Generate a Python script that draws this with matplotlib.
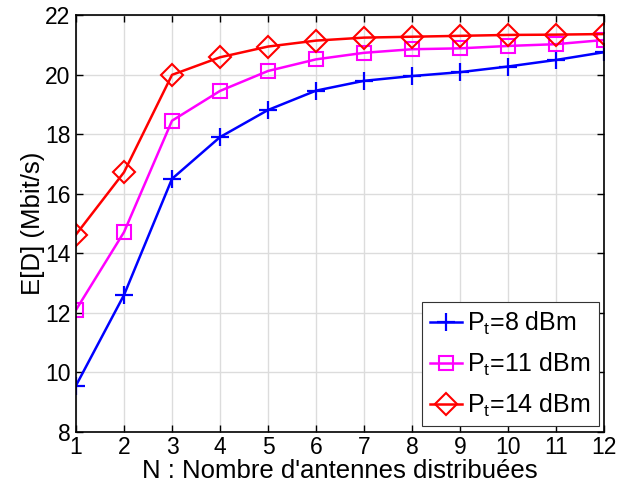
import matplotlib.pyplot as plt
import numpy as np

plt.rcParams['font.family'] = ['Liberation Sans', 'DejaVu Sans']
plt.rcParams['mathtext.fontset'] = 'custom'
plt.rcParams['mathtext.rm'] = 'Liberation Sans'
plt.rcParams['mathtext.it'] = 'Liberation Sans'

n = np.arange(1, 13)
d_8dbm = [9.56, 12.6, 16.5, 17.9, 18.81, 19.46, 19.79, 19.95, 20.08, 20.27, 20.49, 20.75]
d_11dbm = [12.1, 14.71, 18.45, 19.45, 20.12, 20.51, 20.73, 20.85, 20.88, 20.96, 21.02, 21.16]
d_14dbm = [14.63, 16.72, 19.99, 20.58, 20.94, 21.14, 21.24, 21.27, 21.3, 21.33, 21.34, 21.36]

fig = plt.figure(figsize=(6.19, 4.88), dpi=100)
ax = fig.add_axes([0.1228, 0.1148, 0.853, 0.8545])

ax.plot(n, d_8dbm, color='#0000ff', marker='+', markersize=13, markeredgewidth=1.6,
        linewidth=1.8, label='P$_t$=8 dBm')
ax.plot(n, d_11dbm, color='#ff00ff', marker='s', markersize=10, markeredgewidth=1.5,
        markerfacecolor='none', linewidth=1.8, label='P$_t$=11 dBm')
ax.plot(n, d_14dbm, color='#ff0000', marker='D', markersize=11, markeredgewidth=1.5,
        markerfacecolor='none', linewidth=1.8, label='P$_t$=14 dBm')

ax.set_xlim(1, 12)
ax.set_ylim(8, 22)
ax.set_xticks(n)
ax.set_yticks(np.arange(8, 23, 2))
ax.grid(True, color='#dcdcdc', linewidth=1)
ax.tick_params(direction='in', top=True, right=True, labelsize=16.5, length=5, width=1)
ax.tick_params(axis='x', pad=3)
ax.tick_params(axis='y', pad=4)
for s in ax.spines.values():
    s.set_linewidth(1.2)

ax.set_xlabel("N : Nombre d'antennes distribuées", fontsize=18.5, labelpad=0)
ax.set_ylabel('E[D] (Mbit/s)', fontsize=18.5, labelpad=0)

leg = ax.legend(loc='lower right', fontsize=18, fancybox=False, framealpha=1,
                edgecolor='#333333', handlelength=1.3, handletextpad=0.2,
                borderpad=0.3, labelspacing=0.55, borderaxespad=0.22)
leg.get_frame().set_linewidth(0.8)

fig.savefig('out.png', dpi=100)
